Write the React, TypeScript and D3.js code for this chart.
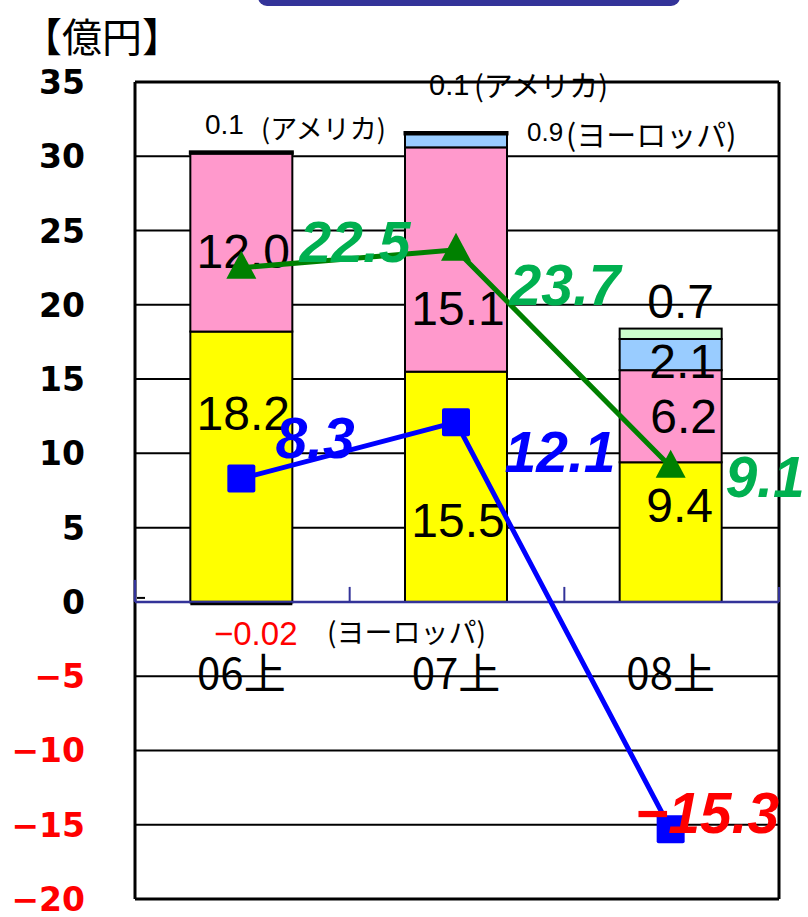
import React from "react";
import * as d3 from "d3";

const categories = ["06上", "07上", "08上"];
const yellowVals = [18.2, 15.5, 9.4];
const pinkVals = [12.0, 15.1, 6.2];
const europeVals = [-0.02, 0.9, 2.1];
const americaVals = [0.1, 0.1, 0];
const otherVals = [0, 0, 0.7];
const greenLine = [22.5, 23.7, 9.1];
const blueLine = [8.3, 12.1, -15.3];
const yTicks = [35, 30, 25, 20, 15, 10, 5, 0, -5, -10, -15, -20];

const seriesKeys = ["yellow", "pink", "europe", "america", "other"];
const seriesColors: Record<string, string> = {
  yellow: "#FFFF00",
  pink: "#FF99CC",
  europe: "#99CCFF",
  america: "#000000",
  other: "#CCFFCC",
};

const NUM = "'Liberation Sans', Arial, sans-serif";
const AXIS = "'DejaVu Sans', Arial, sans-serif";
const JP = "'Noto Sans CJK JP', sans-serif";

export default function App() {
  const W = 808, H = 917;
  const left = 135, right = 779, top = 82, bottom = 899;
  const y = d3.scaleLinear().domain([-20, 35]).range([bottom, top]);
  const x = d3.scaleBand<string>().domain(categories).range([left, right]).padding(0);
  const bw = 102;
  const cx = (c: string) => (x(c) as number) + x.bandwidth() / 2 - 1;

  const table = categories.map((c, i) => ({
    cat: c,
    yellow: yellowVals[i],
    pink: pinkVals[i],
    europe: europeVals[i],
    america: americaVals[i],
    other: otherVals[i],
  }));
  const stack = d3.stack<any>().keys(seriesKeys).offset(d3.stackOffsetDiverging);
  const layers = stack(table);

  const line = d3.line<number>().x((_, i) => cx(categories[i])).y((d) => y(d));

  const barLabels = [
    { c: 0, v: pinkVals[0], dx: 2, by: 268 },
    { c: 0, v: yellowVals[0], dx: 2, by: 430 },
    { c: 1, v: pinkVals[1], dx: 2, by: 325 },
    { c: 1, v: yellowVals[1], dx: 2, by: 537 },
    { c: 2, v: otherVals[2], dx: 10, by: 318 },
    { c: 2, v: europeVals[2], dx: 12, by: 378 },
    { c: 2, v: pinkVals[2], dx: 13, by: 433 },
    { c: 2, v: yellowVals[2], dx: 9, by: 522 },
  ];

  const greenLabels = [
    { v: greenLine[0], x: 355, by: 262 },
    { v: greenLine[1], x: 565, by: 305 },
    { v: greenLine[2], x: 765, by: 497 },
  ];
  const blueLabels = [
    { v: blueLine[0], x: 315, by: 458, color: "#0000FF" },
    { v: blueLine[1], x: 560, by: 472, color: "#0000FF" },
    { v: blueLine[2], x: 707, by: 833, color: "#FF0000" },
  ];

  const fmt = (v: number) => (v < 0 ? "\u2212" + Math.abs(v).toFixed(1) : v.toFixed(1));

  return (
    <svg width={W} height={H} style={{ position: "absolute", left: 0, top: 0, background: "#fff" }}>
      {/* title banner */}
      <rect x={258} y={-30} width={422} height={36} rx={9} fill="#333399" />
      {/* unit */}
      <text x={22} y={52} fontFamily={JP} fontSize={40} fill="#000">【億円】</text>

      {/* gridlines */}
      {yTicks.filter((t) => t !== 0).map((t) => (
        <line key={t} x1={left} x2={right} y1={y(t)} y2={y(t)} stroke="#000" strokeWidth={t === 35 || t === -20 ? 3 : 2} />
      ))}
      <line x1={left} x2={left} y1={top} y2={bottom} stroke="#000" strokeWidth={3} />
      <line x1={right} x2={right} y1={top} y2={bottom} stroke="#000" strokeWidth={3} />

      {/* y tick labels */}
      {yTicks.map((t) => (
        <text key={t} x={85} y={y(t) + 12} textAnchor="end" fontFamily={AXIS} fontWeight="bold" fontSize={33}
          fill={t < 0 ? "#FF0000" : "#000"}>
          {t < 0 ? "\u2212" + Math.abs(t) : t}
        </text>
      ))}

      {/* bars */}
      {layers.map((layer) => (
        <g key={layer.key}>
          {layer.map((d, i) => {
            const v = (d.data as any)[layer.key];
            if (!v) return null;
            const y0 = y(d[1]);
            const y1 = y(d[0]);
            return (
              <rect key={i} x={cx(categories[i]) - bw / 2} y={y0} width={bw} height={Math.max(y1 - y0, 0.5)}
                fill={seriesColors[layer.key]} stroke="#000" strokeWidth={layer.key === "america" ? 3 : 2} />
            );
          })}
        </g>
      ))}

      {/* zero axis */}
      <line x1={left} x2={right} y1={y(0)} y2={y(0)} stroke="#333399" strokeWidth={2.5} />
      <line x1={left} x2={left} y1={y(0) - 22} y2={y(0)} stroke="#333399" strokeWidth={2.5} />
      {categories.slice(1).map((c) => (
        <line key={c} x1={x(c) as number} x2={x(c) as number} y1={y(0) - 15} y2={y(0)} stroke="#333399" strokeWidth={2} />
      ))}
      <line x1={right} x2={right} y1={y(0) - 15} y2={y(0)} stroke="#333399" strokeWidth={2} />
      <line x1={left + 2} x2={left + 10} y1={y(0) - 4} y2={y(0) - 4} stroke="#000" strokeWidth={2} />
      <line x1={cx(categories[0]) - bw / 2} x2={cx(categories[0]) + bw / 2} y1={y(0) + 2} y2={y(0) + 2} stroke="#000" strokeWidth={2.5} />

      {/* category labels */}
      {categories.map((c) => (
        <text key={c} x={cx(c)} y={689} textAnchor="middle" fontFamily={JP} fontSize={42} fill="#000">
          {c}
        </text>
      ))}

      {/* small annotations */}
      <text x={205} y={134} fontFamily={NUM} fontSize={28} fill="#000">{americaVals[0].toFixed(1)}</text>
      <text x={261} y={139} fontFamily={JP} fontSize={27} fill="#000">(アメリカ)</text>
      <text x={429} y={95} fontFamily={NUM} fontSize={29} fill="#000">{americaVals[1].toFixed(1)}</text>
      <text x={474} y={97} fontFamily={JP} fontSize={29} fill="#000">(アメリカ)</text>
      <text x={527} y={141} fontFamily={NUM} fontSize={26} fill="#000">{europeVals[1].toFixed(1)}</text>
      <text x={566} y={146} fontFamily={JP} fontSize={30} fill="#000">(ヨーロッパ)</text>
      <text x={214} y={645} fontFamily={NUM} fontSize={33} fill="#FF0000">{"\u2212" + Math.abs(europeVals[0]).toFixed(2)}</text>
      <text x={327} y={643} fontFamily={JP} fontSize={28} fill="#000">(ヨーロッパ)</text>

      {/* bar value labels */}
      {barLabels.map((l, i) => (
        <text key={i} x={cx(categories[l.c]) + l.dx} y={l.by} textAnchor="middle" fontFamily={NUM} fontSize={48} fill="#000">
          {l.v.toFixed(1)}
        </text>
      ))}

      {/* lines */}
      <path d={line(greenLine) as string} fill="none" stroke="#008000" strokeWidth={5} />
      <path d={line(blueLine) as string} fill="none" stroke="#0000FF" strokeWidth={5} />
      {greenLine.map((v, i) => {
        const px = cx(categories[i]), py = y(v);
        return <path key={i} d={`M${px},${py - 17} L${px + 15},${py + 11} L${px - 15},${py + 11} Z`} fill="#008000" />;
      })}
      {blueLine.map((v, i) => {
        const px = cx(categories[i]), py = y(v);
        return <rect key={i} x={px - 14} y={py - 14} width={28} height={28} rx={2} fill="#0000FF" />;
      })}

      {/* line value labels */}
      {greenLabels.map((l, i) => (
        <text key={i} x={l.x} y={l.by} textAnchor="middle" fontFamily={NUM} fontSize={57} fontWeight="bold" fontStyle="italic" fill="#00B050">
          {fmt(l.v)}
        </text>
      ))}
      {blueLabels.map((l, i) => (
        <text key={i} x={l.x} y={l.by} textAnchor="middle" fontFamily={NUM} fontSize={57} fontWeight="bold" fontStyle="italic" fill={l.color}>
          {fmt(l.v)}
        </text>
      ))}
    </svg>
  );
}
